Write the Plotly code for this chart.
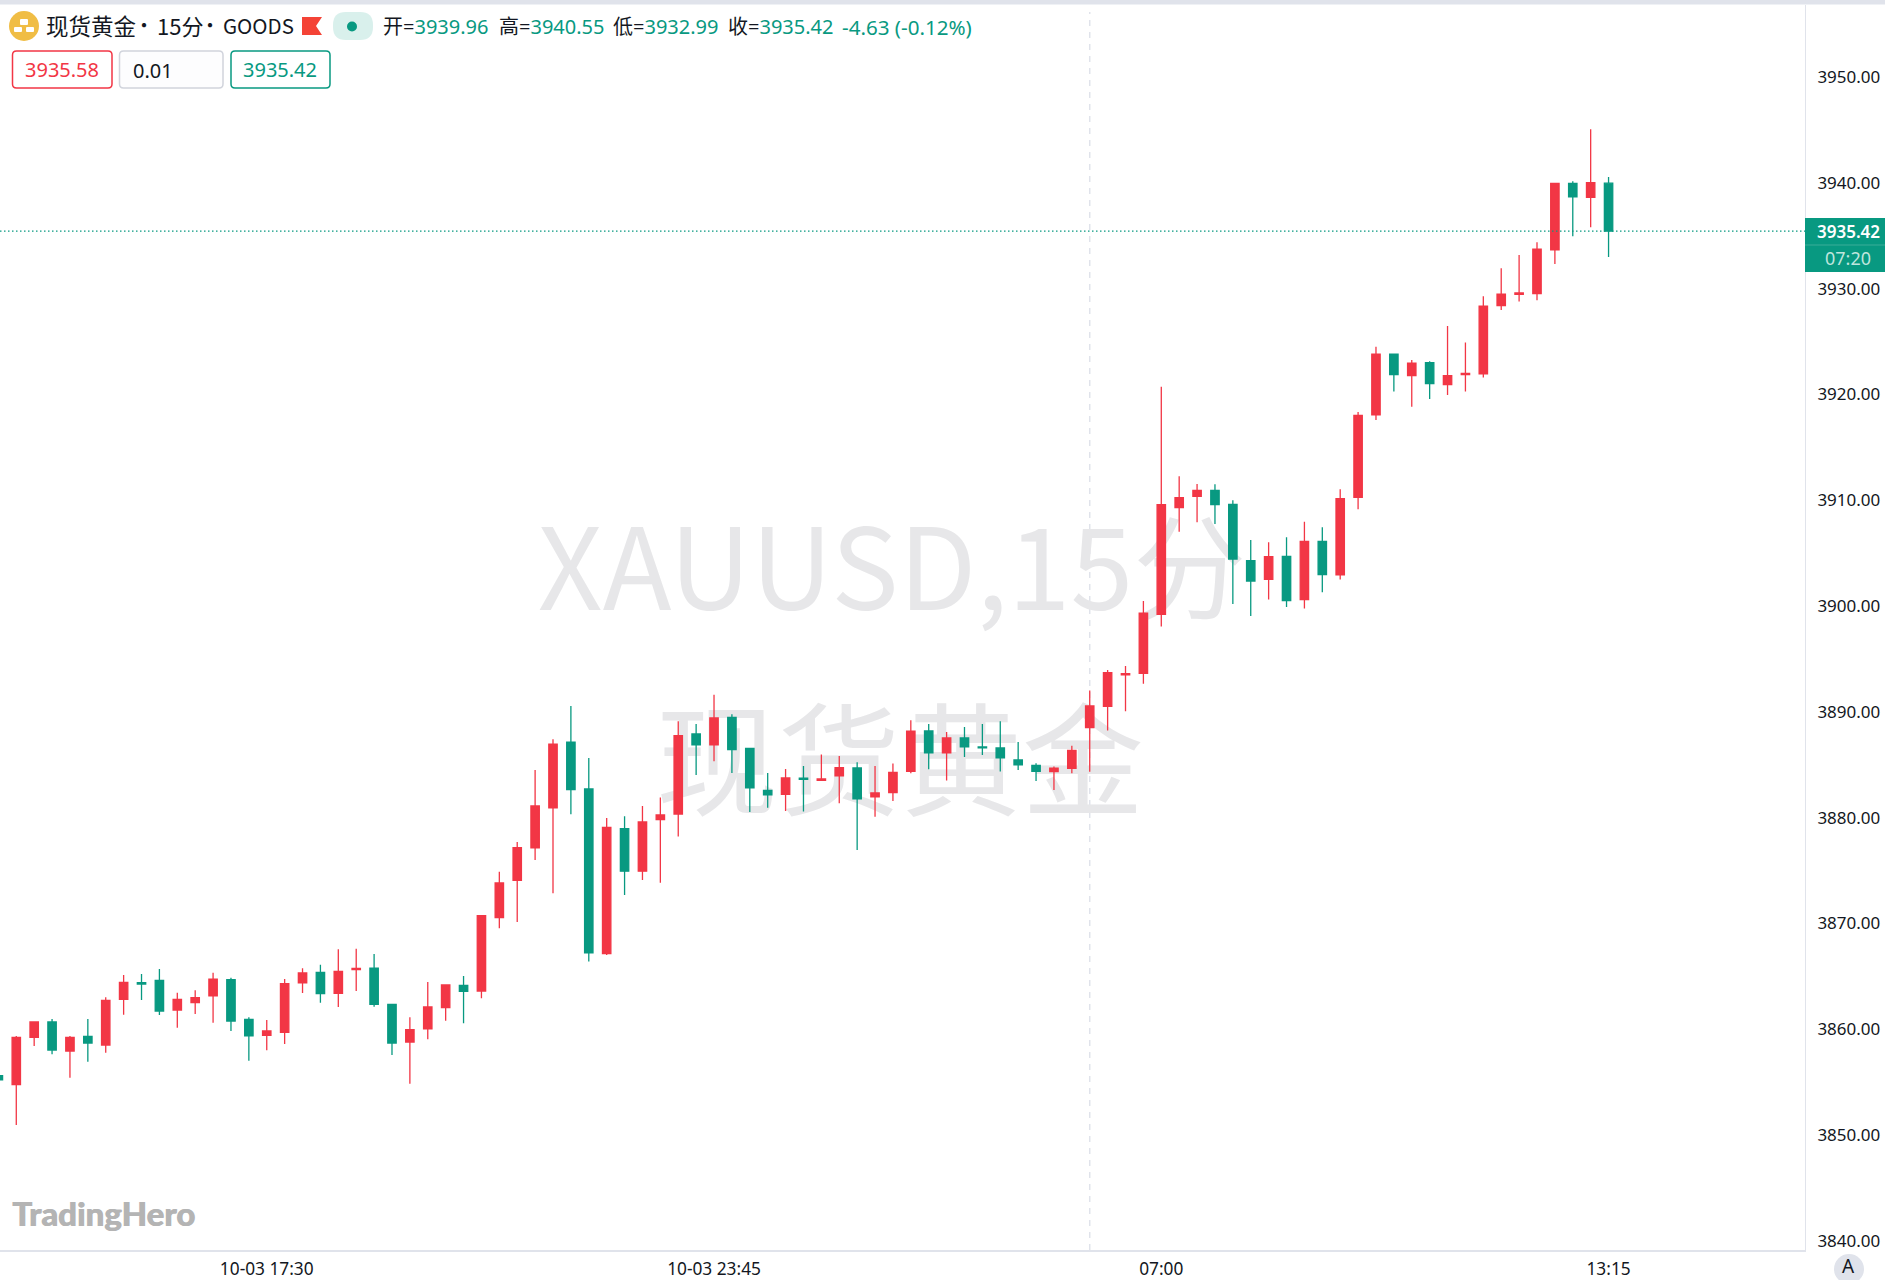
import plotly.graph_objects as go

RED = "#f23645"
GREEN = "#089981"
LINE = "#e0e3eb"
BLACK = "#131722"
FONT = "Noto Sans, Noto Sans CJK SC"
CJK = "Noto Sans CJK SC"

# 15 minute bars, red = up, green = down
opens = [
    3855.60, 3854.76, 3859.23, 3860.68, 3857.94, 3859.32, 3858.50, 3862.82, 3864.40, 3864.62,
    3861.81, 3862.51, 3863.14, 3864.68, 3860.93, 3859.42, 3859.70, 3864.37, 3865.37, 3863.39,
    3865.62, 3865.78, 3862.35, 3858.79, 3860.02, 3862.03, 3864.14, 3863.61, 3870.54, 3874.07,
    3877.13, 3880.91, 3887.12, 3882.71, 3867.14, 3878.96, 3874.93, 3879.81, 3880.34, 3887.91,
    3886.87, 3889.48, 3886.55, 3882.58, 3882.20, 3883.72, 3883.53, 3883.94, 3884.69, 3881.95,
    3882.36, 3884.38, 3888.19, 3886.11, 3887.53, 3886.68, 3886.58, 3885.45, 3884.94, 3884.35,
    3884.66, 3888.50, 3890.52, 3893.48, 3893.64, 3899.21, 3909.29, 3910.36, 3910.93, 3909.61,
    3904.28, 3902.52, 3904.69, 3900.60, 3906.11, 3902.93, 3910.27, 3918.06, 3923.79, 3921.77,
    3923.00, 3920.92, 3921.87, 3921.93, 3928.39, 3929.46, 3929.52, 3933.65, 3939.95, 3938.63,
    3939.96,
]
highs = [
    3859.07, 3859.36, 3860.68, 3860.96, 3859.36, 3860.96, 3863.01, 3865.12, 3865.22, 3865.69,
    3863.45, 3863.67, 3865.34, 3864.87, 3861.12, 3860.87, 3864.74, 3865.75, 3866.10, 3867.55,
    3867.61, 3867.11, 3862.35, 3861.12, 3864.46, 3864.18, 3865.03, 3870.73, 3874.89, 3877.70,
    3884.50, 3887.40, 3890.55, 3885.64, 3879.97, 3880.12, 3881.10, 3881.89, 3889.10, 3888.85,
    3891.62, 3889.76, 3886.58, 3884.22, 3884.60, 3884.88, 3885.95, 3885.83, 3885.23, 3884.88,
    3885.10, 3889.20, 3888.85, 3888.10, 3888.57, 3888.85, 3889.10, 3887.15, 3885.13, 3884.82,
    3886.80, 3892.00, 3893.95, 3894.33, 3900.47, 3920.73, 3912.25, 3911.53, 3911.50, 3909.99,
    3906.24, 3906.02, 3906.49, 3907.97, 3907.43, 3911.03, 3918.34, 3924.51, 3923.85, 3923.25,
    3923.13, 3926.47, 3924.89, 3929.27, 3931.92, 3933.18, 3934.38, 3939.95, 3940.14, 3945.06,
    3940.55,
]
lows = [
    3853.40, 3850.94, 3858.41, 3857.62, 3855.42, 3856.93, 3857.78, 3861.37, 3862.76, 3861.34,
    3860.14, 3861.43, 3860.62, 3859.83, 3857.02, 3858.00, 3858.60, 3863.42, 3862.50, 3862.10,
    3863.61, 3862.13, 3857.56, 3854.85, 3859.04, 3860.80, 3860.55, 3862.92, 3869.54, 3870.14,
    3876.00, 3872.85, 3880.31, 3866.39, 3867.02, 3872.69, 3874.11, 3873.85, 3878.20, 3884.03,
    3885.32, 3884.22, 3880.53, 3880.94, 3880.63, 3880.57, 3883.46, 3881.35, 3876.94, 3880.09,
    3881.57, 3884.19, 3884.57, 3883.50, 3885.73, 3885.92, 3884.35, 3884.50, 3883.46, 3882.61,
    3884.19, 3884.34, 3888.22, 3890.05, 3892.66, 3898.05, 3907.02, 3907.91, 3907.75, 3900.19,
    3899.05, 3900.60, 3899.90, 3899.75, 3901.29, 3902.49, 3909.14, 3917.58, 3920.26, 3918.84,
    3919.57, 3919.95, 3920.26, 3921.59, 3927.98, 3928.77, 3928.89, 3932.33, 3934.94, 3935.80,
    3932.99,
]
closes = [
    3855.20, 3859.23, 3860.68, 3858.03, 3859.23, 3858.69, 3862.73, 3864.43, 3864.27, 3861.72,
    3862.82, 3862.98, 3864.74, 3860.77, 3859.36, 3859.83, 3864.30, 3865.31, 3863.36, 3865.47,
    3865.75, 3862.35, 3858.69, 3859.95, 3862.10, 3864.18, 3863.58, 3870.73, 3873.82, 3877.16,
    3881.10, 3886.93, 3882.64, 3867.21, 3879.08, 3874.93, 3879.59, 3880.25, 3887.75, 3886.87,
    3889.42, 3886.43, 3882.80, 3882.14, 3883.75, 3883.62, 3883.65, 3884.72, 3881.76, 3882.33,
    3884.28, 3888.16, 3886.11, 3887.53, 3886.68, 3886.58, 3885.64, 3884.98, 3884.38, 3884.66,
    3886.36, 3890.55, 3893.70, 3893.61, 3899.31, 3909.58, 3910.24, 3910.93, 3909.58, 3904.44,
    3902.36, 3904.66, 3900.50, 3906.11, 3902.96, 3910.14, 3918.02, 3923.79, 3921.87, 3922.94,
    3921.02, 3921.77, 3921.99, 3928.33, 3929.46, 3929.59, 3933.72, 3939.95, 3938.66, 3940.02,
    3935.42,
]
bar_index = list(range(len(opens)))

price_ticks = [3840, 3850, 3860, 3870, 3880, 3890, 3900, 3910, 3920, 3930, 3940, 3950]
price_labels = ["%.2f" % p for p in price_ticks]
time_ticks = [15, 40, 65, 90]
time_labels = ["10-03 17:30", "10-03 23:45", "07:00", "13:15"]
session_break = 61
last_price = 3935.42

# plot area in page pixels, everything decorative is placed from these
LEFT, RIGHT, TOP, BOTTOM = 0, 1805, 5, 1250
W, H = 1885, 1280


def px(x):
    return (x - LEFT) / (RIGHT - LEFT)


def py(y):
    return 1 - (y - TOP) / (BOTTOM - TOP)


def round_rect(x0, y0, x1, y1, r):
    # rounded rectangle as an svg path in paper units
    a, b, c, d = px(x0), px(x1), py(y0), py(y1)
    rx, ry = r / (RIGHT - LEFT), r / (BOTTOM - TOP)
    return (f"M{a + rx},{c} L{b - rx},{c} Q{b},{c} {b},{c - ry} L{b},{d + ry} Q{b},{d} {b - rx},{d} "
            f"L{a + rx},{d} Q{a},{d} {a},{d + ry} L{a},{c - ry} Q{a},{c} {a + rx},{c} Z")


def box(x0, y0, x1, y1, r, fill, line=None, width=1.5):
    return dict(type="path", xref="paper", yref="paper", path=round_rect(x0, y0, x1, y1, r), fillcolor=fill,
                line=dict(color=line or fill, width=width), layer="above")


def label(text, x, y, size, color=BLACK, anchor="left", family=FONT, weight=None, shadow=None):
    return dict(text=text, x=px(x), y=py(y), xref="paper", yref="paper", xanchor=anchor, yanchor="middle",
                showarrow=False, font=dict(size=size, color=color, family=family, weight=weight, shadow=shadow))


def ohlc(name, value):
    return f'<span style="color:{BLACK}">{name}=</span><span style="color:{GREEN}">{value}</span>'


fig = go.Figure()

# watermark sits on the base axes so the candles on the overlay cover it
fig.add_trace(go.Scatter(
    x=[px(892), px(900)], y=[py(582), py(775)], mode="text",
    text=["XAUUSD,15分", "现货黄金"], textposition="middle center",
    textfont=dict(family=CJK, size=[113, 122], color="#e7e7e9"),
    hoverinfo="skip", xaxis="x", yaxis="y",
))
fig.add_trace(go.Candlestick(
    x=bar_index, open=opens, high=highs, low=lows, close=closes,
    increasing=dict(line=dict(color=RED, width=1.3), fillcolor=RED),
    decreasing=dict(line=dict(color=GREEN, width=1.3), fillcolor=GREEN),
    xaxis="x2", yaxis="y2",
))

shapes = [
    # top strip
    dict(type="rect", xref="paper", yref="paper", x0=px(0), x1=px(W), y0=py(0), y1=py(4.5), fillcolor=LINE,
         line=dict(width=0), layer="above"),
    # session break and last price line
    dict(type="line", xref="x2", yref="paper", x0=session_break, x1=session_break, y0=0, y1=py(12),
         line=dict(color=LINE, width=1.5, dash="6px,6px"), layer="below"),
    dict(type="line", xref="paper", yref="y2", x0=0, x1=1, y0=last_price, y1=last_price,
         line=dict(color=GREEN, width=1.2, dash="1.5px,2.5px"), layer="above"),
    # price tag on the axis
    dict(type="rect", xref="paper", yref="paper", x0=px(RIGHT), x1=px(W), y0=py(218), y1=py(272), fillcolor=GREEN,
         line=dict(width=0), layer="above"),
    dict(type="line", xref="paper", yref="paper", x0=px(RIGHT), x1=px(W), y0=py(245), y1=py(245),
         line=dict(color="#3aad98", width=1), layer="above"),
    # symbol logo
    dict(type="circle", xref="paper", yref="paper", x0=px(9), x1=px(39), y0=py(11), y1=py(41), fillcolor="#f0bd45",
         line=dict(width=0), layer="above"),
    box(20, 19, 28, 25, 1, "white", width=0),
    box(14, 27, 22, 32, 1, "white", width=0),
    box(26, 27, 34, 32, 1, "white", width=0),
    # flag
    dict(type="path", xref="paper", yref="paper", fillcolor="#f44336", line=dict(width=0), layer="above",
         path=f"M{px(302)},{py(17)} L{px(322)},{py(17)} L{px(316)},{py(26)} L{px(322)},{py(35)} L{px(302)},{py(35)} Z"),
    # market status
    box(333, 12, 373, 40, 13, "#d9f0ec", width=0),
    dict(type="circle", xref="paper", yref="paper", x0=px(347), x1=px(357), y0=py(21.5), y1=py(31.5),
         fillcolor=GREEN, line=dict(width=0), layer="above"),
    # bid, size, ask
    box(12.5, 51, 112, 88, 4, "white", RED),
    box(119.5, 51, 223, 88, 4, "#fdfdfe", "#d1d4dc"),
    box(231, 51, 330, 88, 4, "white", GREEN),
    # auto scale button
    dict(type="circle", xref="paper", yref="paper", x0=px(1834), x1=px(1864), y0=py(1254), y1=py(1284),
         fillcolor=LINE, line=dict(width=0), layer="above"),
]

annotations = [
    label("现货黄金", 44, 25, 22.5, family=CJK),
    label("•", 144, 25, 20, anchor="center", family=CJK),
    label("15分", 155, 25, 22, family=CJK),
    label("•", 210, 25, 20, anchor="center", family=CJK),
    label("GOODS", 221, 25, 20.5, family=CJK),
    label(ohlc("开", "3939.96"), 381, 27, 20),
    label(ohlc("高", "3940.55"), 497, 27, 20),
    label(ohlc("低", "3932.99"), 611, 27, 20),
    label(ohlc("收", "3935.42"), 726, 27, 20),
    label("-4.63 (-0.12%)", 840, 27, 20.6, GREEN),
    label("3935.58", 62, 70, 20, RED, "center"),
    label("0.01", 131, 71, 20),
    label("3935.42", 280, 70, 20, GREEN, "center"),
    label("3935.42", 1848, 231, 17, "white", "center", weight=600),
    label("07:20", 1848, 258, 18, "#bfe5dd", "center"),
    label("TradingHero", 10, 1213, 33, "#b4b4b4", family="Lato", weight=900, shadow="0.7px 0 0 #b4b4b4"),
    label("A", 1849, 1266, 19, BLACK, "center"),
]

fig.update_layout(
    width=W,
    height=H,
    margin=dict(l=LEFT, r=W - RIGHT, t=TOP, b=H - BOTTOM, pad=0, autoexpand=False),
    paper_bgcolor="white",
    plot_bgcolor="white",
    showlegend=False,
    boxgap=0.33,
    font=dict(family=FONT, size=17, color=BLACK),
    xaxis=dict(visible=False, range=[0, 1], fixedrange=True),
    yaxis=dict(visible=False, range=[0, 1], fixedrange=True),
    xaxis2=dict(
        overlaying="x", anchor="y2", side="bottom", range=[0.09, 100.98], tickmode="array",
        tickvals=time_ticks, ticktext=time_labels, showgrid=False, zeroline=False, showline=True,
        linecolor=LINE, linewidth=2, ticks="", ticklabelstandoff=2, rangeslider=dict(visible=False),
        tickfont=dict(size=17.3),
    ),
    yaxis2=dict(
        overlaying="y", anchor="x2", side="right", range=[3839.13, 3956.8], tickmode="array",
        tickvals=price_ticks, ticktext=price_labels, showgrid=False, zeroline=False, showline=True,
        linecolor=LINE, linewidth=1, ticks="", ticklabelstandoff=8, tickfont=dict(size=17),
    ),
    shapes=shapes,
    annotations=annotations,
)

fig.write_html("out.html", config=dict(displayModeBar=False), post_script="document.body.style.margin='0';")
